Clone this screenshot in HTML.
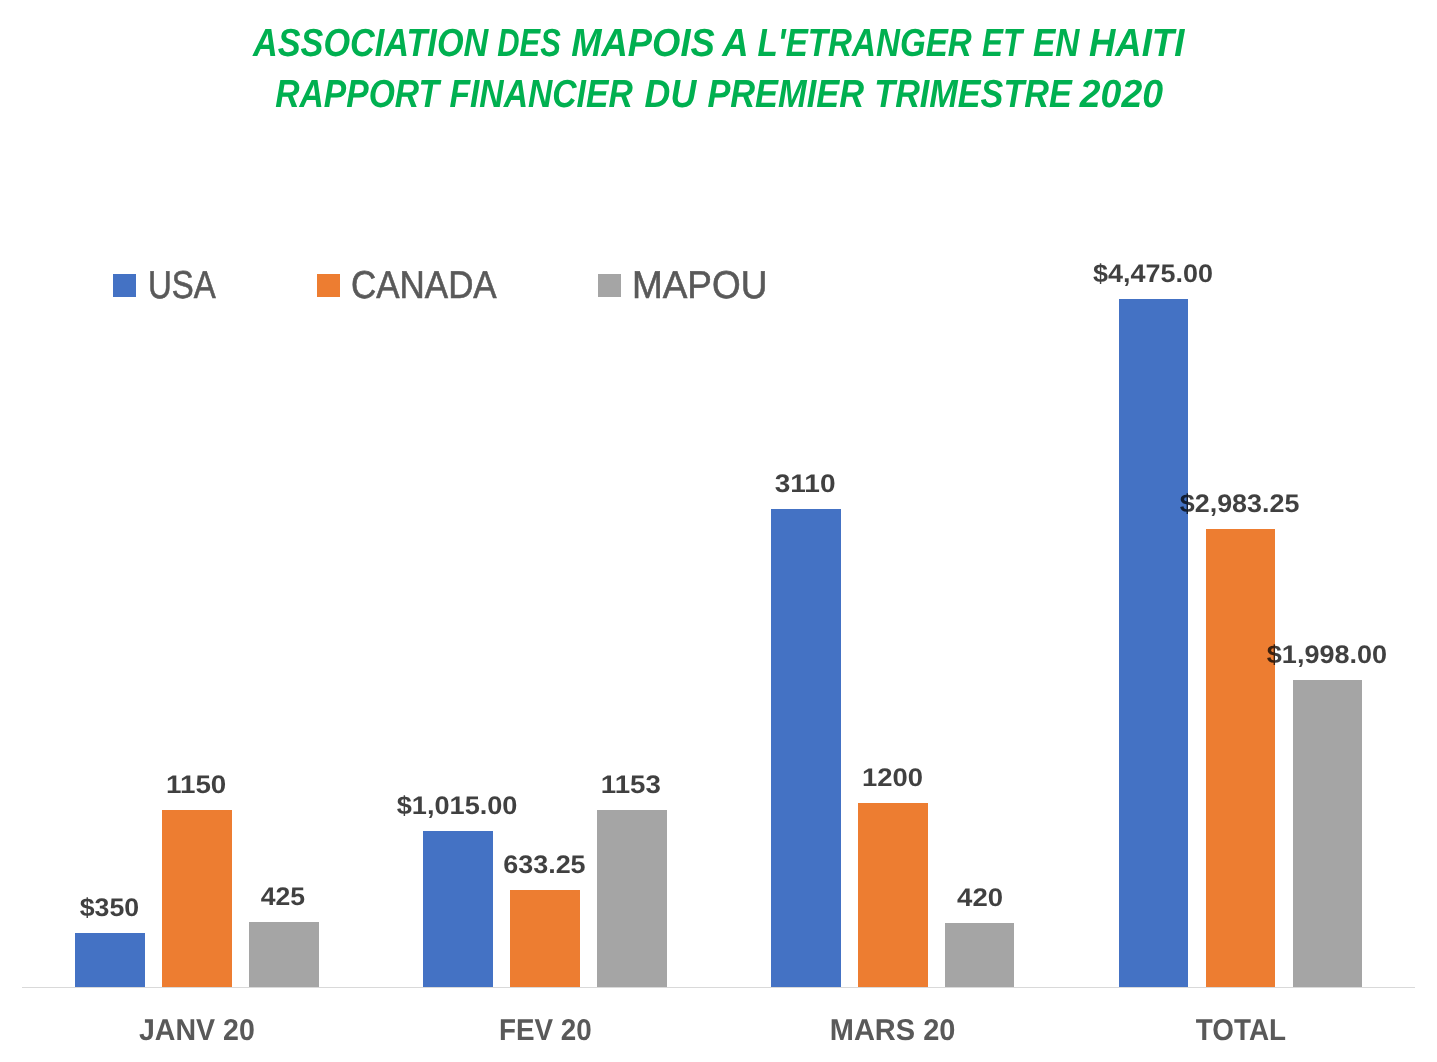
<!DOCTYPE html><html><head><meta charset="utf-8"><title>Rapport financier</title><style>html,body{margin:0;padding:0;background:#fff;}svg{display:block;will-change:transform;}text{font-family:"Liberation Sans",Arial,sans-serif;text-rendering:geometricPrecision;}</style></head><body>
<svg width="1437" height="1062" viewBox="0 0 1437 1062">
<rect width="1437" height="1062" fill="#fff"/>
<rect x="22" y="987" width="1393" height="1" fill="#D9D9D9"/>
<rect x="75" y="933" width="70" height="54" fill="#4472C4"/>
<rect x="162" y="810" width="70" height="177" fill="#ED7D31"/>
<rect x="249" y="922" width="70" height="65" fill="#A5A5A5"/>
<rect x="423" y="831" width="70" height="156" fill="#4472C4"/>
<rect x="510" y="890" width="70" height="97" fill="#ED7D31"/>
<rect x="597" y="810" width="70" height="177" fill="#A5A5A5"/>
<rect x="771" y="509" width="70" height="478" fill="#4472C4"/>
<rect x="858" y="803" width="70" height="184" fill="#ED7D31"/>
<rect x="945" y="923" width="69" height="64" fill="#A5A5A5"/>
<rect x="1119" y="299" width="69" height="688" fill="#4472C4"/>
<rect x="1206" y="529" width="69" height="458" fill="#ED7D31"/>
<rect x="1293" y="680" width="69" height="307" fill="#A5A5A5"/>
<rect x="113" y="274" width="23" height="23" fill="#4472C4"/>
<rect x="317" y="274" width="23" height="23" fill="#ED7D31"/>
<rect x="598" y="274" width="23" height="23" fill="#A5A5A5"/>
<text id="ta0" x="253.00" y="56.00" textLength="235.25" lengthAdjust="spacingAndGlyphs" font-size="39.2" font-weight="bold" font-style="italic" fill="#00B050">ASSOCIATION</text>
<text id="ta1" x="497.20" y="56.00" textLength="63.58" lengthAdjust="spacingAndGlyphs" font-size="39.2" font-weight="bold" font-style="italic" fill="#00B050">DES</text>
<text id="ta2" x="571.20" y="56.00" textLength="143.59" lengthAdjust="spacingAndGlyphs" font-size="39.2" font-weight="bold" font-style="italic" fill="#00B050">MAPOIS</text>
<text id="ta3" x="722.20" y="56.00" textLength="26.31" lengthAdjust="spacingAndGlyphs" font-size="39.2" font-weight="bold" font-style="italic" fill="#00B050">A</text>
<text id="ta4" x="757.60" y="56.00" textLength="214.16" lengthAdjust="spacingAndGlyphs" font-size="39.2" font-weight="bold" font-style="italic" fill="#00B050">L&#39;ETRANGER</text>
<text id="ta5" x="982.10" y="56.00" textLength="40.08" lengthAdjust="spacingAndGlyphs" font-size="39.2" font-weight="bold" font-style="italic" fill="#00B050">ET</text>
<text id="ta6" x="1032.90" y="56.00" textLength="46.45" lengthAdjust="spacingAndGlyphs" font-size="39.2" font-weight="bold" font-style="italic" fill="#00B050">EN</text>
<text id="ta7" x="1089.00" y="56.00" textLength="95.31" lengthAdjust="spacingAndGlyphs" font-size="39.2" font-weight="bold" font-style="italic" fill="#00B050">HAITI</text>
<text id="tb0" x="275.20" y="106.60" textLength="163.89" lengthAdjust="spacingAndGlyphs" font-size="39.2" font-weight="bold" font-style="italic" fill="#00B050">RAPPORT</text>
<text id="tb1" x="449.40" y="106.60" textLength="183.36" lengthAdjust="spacingAndGlyphs" font-size="39.2" font-weight="bold" font-style="italic" fill="#00B050">FINANCIER</text>
<text id="tb2" x="644.60" y="106.60" textLength="51.61" lengthAdjust="spacingAndGlyphs" font-size="39.2" font-weight="bold" font-style="italic" fill="#00B050">DU</text>
<text id="tb3" x="707.40" y="106.60" textLength="156.55" lengthAdjust="spacingAndGlyphs" font-size="39.2" font-weight="bold" font-style="italic" fill="#00B050">PREMIER</text>
<text id="tb4" x="874.30" y="106.60" textLength="197.42" lengthAdjust="spacingAndGlyphs" font-size="39.2" font-weight="bold" font-style="italic" fill="#00B050">TRIMESTRE</text>
<text id="tb5" x="1079.80" y="106.60" textLength="83.19" lengthAdjust="spacingAndGlyphs" font-size="39.2" font-weight="bold" font-style="italic" fill="#00B050">2020</text>
<text id="lg0" x="148.00" y="298.00" textLength="67.78" lengthAdjust="spacingAndGlyphs" font-size="38.8" font-weight="normal" font-style="normal" fill="#595959" stroke="#595959" stroke-width="0.6">USA</text>
<text id="lg1" x="351.00" y="298.00" textLength="145.69" lengthAdjust="spacingAndGlyphs" font-size="38.8" font-weight="normal" font-style="normal" fill="#595959" stroke="#595959" stroke-width="0.6">CANADA</text>
<text id="lg2" x="632.00" y="298.00" textLength="135.28" lengthAdjust="spacingAndGlyphs" font-size="38.8" font-weight="normal" font-style="normal" fill="#595959" stroke="#595959" stroke-width="0.6">MAPOU</text>
<text id="c0" x="139.00" y="1040.30" textLength="115.77" lengthAdjust="spacingAndGlyphs" font-size="30.0" font-weight="bold" font-style="normal" fill="#595959">JANV 20</text>
<text id="c1" x="499.00" y="1040.30" textLength="92.72" lengthAdjust="spacingAndGlyphs" font-size="30.0" font-weight="bold" font-style="normal" fill="#595959">FEV 20</text>
<text id="c2" x="829.80" y="1040.30" textLength="125.60" lengthAdjust="spacingAndGlyphs" font-size="30.0" font-weight="bold" font-style="normal" fill="#595959">MARS 20</text>
<text id="c3" x="1195.80" y="1040.30" textLength="90.23" lengthAdjust="spacingAndGlyphs" font-size="30.0" font-weight="bold" font-style="normal" fill="#595959">TOTAL</text>
<text id="d00" x="109.50" y="915.80" text-anchor="middle" textLength="59.48" lengthAdjust="spacingAndGlyphs" font-size="25.4" font-weight="bold" font-style="normal" fill="#000" fill-opacity="0.749">$350</text>
<text id="d01" x="196.20" y="792.80" text-anchor="middle" textLength="60.29" lengthAdjust="spacingAndGlyphs" font-size="25.4" font-weight="bold" font-style="normal" fill="#000" fill-opacity="0.749">1150</text>
<text id="d02" x="283.00" y="904.80" text-anchor="middle" textLength="44.38" lengthAdjust="spacingAndGlyphs" font-size="25.4" font-weight="bold" font-style="normal" fill="#000" fill-opacity="0.749">425</text>
<text id="d10" x="457.10" y="813.80" text-anchor="middle" textLength="120.77" lengthAdjust="spacingAndGlyphs" font-size="25.4" font-weight="bold" font-style="normal" fill="#000" fill-opacity="0.749">$1,015.00</text>
<text id="d11" x="544.40" y="872.80" text-anchor="middle" textLength="82.47" lengthAdjust="spacingAndGlyphs" font-size="25.4" font-weight="bold" font-style="normal" fill="#000" fill-opacity="0.749">633.25</text>
<text id="d12" x="630.90" y="792.80" text-anchor="middle" textLength="60.09" lengthAdjust="spacingAndGlyphs" font-size="25.4" font-weight="bold" font-style="normal" fill="#000" fill-opacity="0.749">1153</text>
<text id="d20" x="805.10" y="491.80" text-anchor="middle" textLength="60.89" lengthAdjust="spacingAndGlyphs" font-size="25.4" font-weight="bold" font-style="normal" fill="#000" fill-opacity="0.749">3110</text>
<text id="d21" x="892.50" y="785.80" text-anchor="middle" textLength="61.08" lengthAdjust="spacingAndGlyphs" font-size="25.4" font-weight="bold" font-style="normal" fill="#000" fill-opacity="0.749">1200</text>
<text id="d22" x="980.10" y="905.80" text-anchor="middle" textLength="45.98" lengthAdjust="spacingAndGlyphs" font-size="25.4" font-weight="bold" font-style="normal" fill="#000" fill-opacity="0.749">420</text>
<text id="d30" x="1153.00" y="281.80" text-anchor="middle" textLength="119.97" lengthAdjust="spacingAndGlyphs" font-size="25.4" font-weight="bold" font-style="normal" fill="#000" fill-opacity="0.749">$4,475.00</text>
<text id="d31" x="1239.60" y="511.80" text-anchor="middle" textLength="119.57" lengthAdjust="spacingAndGlyphs" font-size="25.4" font-weight="bold" font-style="normal" fill="#000" fill-opacity="0.749">$2,983.25</text>
<text id="d32" x="1327.00" y="662.80" text-anchor="middle" textLength="120.37" lengthAdjust="spacingAndGlyphs" font-size="25.4" font-weight="bold" font-style="normal" fill="#000" fill-opacity="0.749">$1,998.00</text>
</svg></body></html>
